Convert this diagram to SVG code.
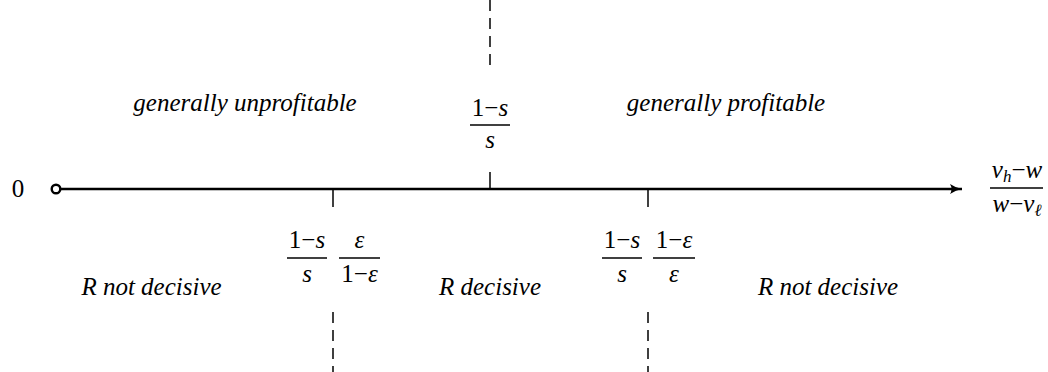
<svg xmlns="http://www.w3.org/2000/svg" width="1048" height="372" viewBox="0 0 1048 372">
<style>
text{font-family:"Liberation Serif","Times New Roman",serif;font-size:25px;fill:#000}
.i{font-style:italic}
.c{text-anchor:middle}
.sub{font-size:17px}
.bar{stroke:#000;stroke-width:1.3}
.tick{stroke:#000;stroke-width:1.5}
.dash{stroke:#000;stroke-width:1.5;stroke-dasharray:11 7}
</style>
<defs>
<marker id="arr" markerWidth="14" markerHeight="12" refX="12" refY="6" orient="auto" markerUnits="userSpaceOnUse">
<path d="M0,1 Q6,5 12,6 Q6,7 0,11 Q3,6 0,1 Z" fill="#000"/>
</marker>
</defs>
<g id="connectors">
<line x1="60" y1="189" x2="962" y2="189" stroke="#000" stroke-width="2.6" marker-end="url(#arr)"/>
<line class="tick" x1="490" y1="172" x2="490" y2="189"/>
<line class="tick" x1="333" y1="189" x2="333" y2="207"/>
<line class="tick" x1="648" y1="189" x2="648" y2="207"/>
<line class="dash" x1="490" y1="0" x2="490" y2="68"/>
<line class="dash" x1="333" y1="312" x2="333" y2="372"/>
<line class="dash" x1="648" y1="312" x2="648" y2="372"/>
</g>
<g id="origin" font-family="Liberation Serif">
<circle cx="56" cy="189" r="4.3" fill="#fff" stroke="#000" stroke-width="2.4"/>
<text x="18" y="197" class="c">0</text>
</g>
<g id="axis-label" font-family="Liberation Serif">
<text x="1017" y="178" class="c"><tspan class="i">v</tspan><tspan class="i sub" dy="4">h</tspan><tspan dy="-4">−</tspan><tspan class="i">w</tspan></text>
<line class="bar" x1="990" y1="188" x2="1043" y2="188"/>
<text x="1017" y="212" class="c"><tspan class="i">w</tspan>−<tspan class="i">v</tspan><tspan class="i sub" dy="4">ℓ</tspan></text>
</g>
<g id="top-threshold" font-family="Liberation Serif">
<text x="490" y="116" class="c">1−<tspan class="i">s</tspan></text>
<line class="bar" x1="470" y1="125" x2="510" y2="125"/>
<text x="490" y="148" class="c i">s</text>
</g>
<g id="region-labels-top" font-family="Liberation Serif">
<text x="245" y="111" class="c i">generally unprofitable</text>
<text x="726" y="111" class="c i">generally profitable</text>
</g>
<g id="left-threshold" font-family="Liberation Serif">
<text x="307" y="248" class="c">1−<tspan class="i">s</tspan></text>
<line class="bar" x1="287" y1="258" x2="327" y2="258"/>
<text x="307" y="282" class="c i">s</text>
<text x="359.5" y="248" class="c i">ε</text>
<line class="bar" x1="339" y1="258" x2="380" y2="258"/>
<text x="359.5" y="282" class="c">1−<tspan class="i">ε</tspan></text>
</g>
<g id="right-threshold" font-family="Liberation Serif">
<text x="622" y="248" class="c">1−<tspan class="i">s</tspan></text>
<line class="bar" x1="602" y1="258" x2="642" y2="258"/>
<text x="622" y="282" class="c i">s</text>
<text x="674" y="248" class="c">1−<tspan class="i">ε</tspan></text>
<line class="bar" x1="653" y1="258" x2="695" y2="258"/>
<text x="674" y="282" class="c i">ε</text>
</g>
<g id="region-labels-bottom" font-family="Liberation Serif">
<text x="151.5" y="295" class="c i">R not decisive</text>
<text x="490" y="295" class="c i">R decisive</text>
<text x="828" y="295" class="c i">R not decisive</text>
</g>
</svg>
